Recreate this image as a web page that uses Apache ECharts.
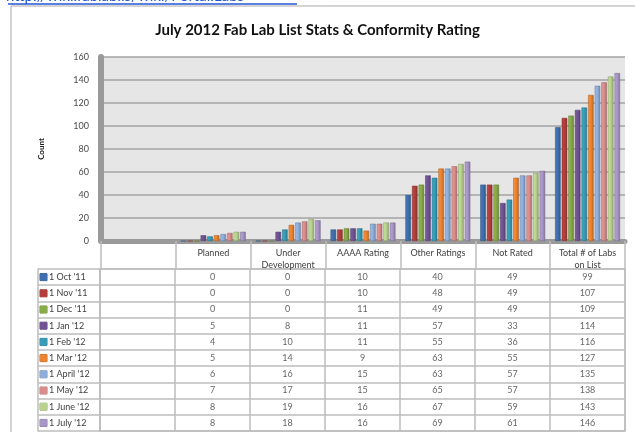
<!DOCTYPE html>
<html>
<head>
<meta charset="utf-8">
<script src="https://cdn.jsdelivr.net/npm/echarts@6/dist/echarts.min.js"></script>
<style>html,body{margin:0;padding:0;background:#fff}#c{width:635px;height:432px}</style>
</head>
<body>
<div id="c"></div>
<script>
const categories = ['', 'Planned', 'Under\nDevelopment', 'AAAA Rating', 'Other Ratings', 'Not Rated', 'Total # of Labs\non List'];
const seriesNames = ["1 Oct '11", "1 Nov '11", "1 Dec '11", "1 Jan '12", "1 Feb '12", "1 Mar '12", "1 April '12", "1 May '12", "1 June '12", "1 July '12"];
const oct11 = [0, 0, 10, 40, 49, 99];
const nov11 = [0, 0, 10, 48, 49, 107];
const dec11 = [0, 0, 11, 49, 49, 109];
const jan12 = [5, 8, 11, 57, 33, 114];
const feb12 = [4, 10, 11, 55, 36, 116];
const mar12 = [5, 14, 9, 63, 55, 127];
const apr12 = [6, 16, 15, 63, 57, 135];
const may12 = [7, 17, 15, 65, 57, 138];
const jun12 = [8, 19, 16, 67, 59, 143];
const jul12 = [8, 18, 16, 69, 61, 146];
const yTicks = [0, 20, 40, 60, 80, 100, 120, 140, 160];

const seriesValues = [oct11, nov11, dec11, jan12, feb12, mar12, apr12, may12, jun12, jul12];
const colors = ['#3F6FAE', '#B23F3C', '#88AA48', '#6F5394', '#389CB6', '#EC8431', '#8FAEDB', '#D98D8B', '#B9D38F', '#A896C6'];
const FONT = 'Lato';
const lineC = '#bdbdbd';

function shade(hex, f) {
  const n = parseInt(hex.slice(1), 16);
  let r = (n >> 16) & 255, g = (n >> 8) & 255, b = n & 255;
  r = Math.round(r * f); g = Math.round(g * f); b = Math.round(b * f);
  return 'rgb(' + Math.min(255, r) + ',' + Math.min(255, g) + ',' + Math.min(255, b) + ')';
}

const rich = { t: { fontSize: 9, color: '#404040', fontFamily: FONT, padding: [0, 0, 0, 2] } };
colors.forEach((c, i) => {
  rich['k' + i] = { backgroundColor: c, width: 7, height: 7, borderColor: shade(c, 0.8), borderWidth: 0.5 };
});

const barSeries = seriesNames.map((name, i) => ({
  name: name,
  type: 'bar',
  xAxisIndex: 0,
  yAxisIndex: 0,
  barWidth: 5.5,
  barGap: '20%',
  data: [null].concat(seriesValues[i]),
  itemStyle: {
    color: { type: 'linear', x: 0, y: 0, x2: 1, y2: 0, colorStops: [
      { offset: 0, color: shade(colors[i], 1.08) },
      { offset: 0.5, color: colors[i] },
      { offset: 1, color: shade(colors[i], 0.78) }
    ] },
    borderColor: shade(colors[i], 0.7),
    borderWidth: 0.5
  }
}));

const cellData = [];
seriesValues.forEach((vals, r) => {
  vals.forEach((v, c) => { cellData.push([c + 1, r, v]); });
});

const chart = echarts.init(document.getElementById('c'), null, { renderer: 'canvas' });
chart.setOption({
  animation: false,
  backgroundColor: '#ffffff',
  title: [{
    text: 'July 2012 Fab Lab List Stats & Conformity Rating',
    left: 'center',
    top: 18,
    textStyle: { fontFamily: FONT, fontSize: 15, fontWeight: 'bold', color: '#111111' }
  }, {
    text: 'http://wiki.fablab.is/wiki/Portal:Labs',
    left: 6,
    top: -11,
    padding: 0,
    textStyle: { fontFamily: FONT, fontSize: 15, fontWeight: 'normal', color: '#2456d8' }
  }],
  graphic: [
    { type: 'rect', shape: { x: 11, y: 6, width: 700, height: 500 }, style: { fill: 'none', stroke: '#a8a8a8', lineWidth: 1 }, silent: true, z: -1 },
    { type: 'line', shape: { x1: 8, y1: 4, x2: 297, y2: 4 }, style: { stroke: '#2456d8', lineWidth: 1.5 }, silent: true }
  ],
  grid: [
    { left: 101, right: 10, top: 57, height: 184, show: true, backgroundColor: '#e6e6e6', borderWidth: 0 },
    { left: 100, right: 10, top: 269, height: 162, show: true, backgroundColor: 'transparent', borderColor: lineC, borderWidth: 1.5 }
  ],
  xAxis: [{
    type: 'category',
    gridIndex: 0,
    data: categories,
    axisLine: { show: true, lineStyle: { color: '#9a9a9a', width: 5 } },
    axisTick: { show: true, interval: 0, length: 28, lineStyle: { color: lineC, width: 1.5 } },
    axisLabel: { interval: 0, fontFamily: FONT, fontSize: 9, color: '#404040', lineHeight: 12, margin: 6 },
    splitLine: { show: false }
  }, {
    type: 'category',
    gridIndex: 1,
    position: 'top',
    data: categories,
    axisLine: { show: false },
    axisTick: { show: false },
    axisLabel: { show: false },
    splitLine: { show: true, interval: 0, lineStyle: { color: lineC, width: 1.5 } }
  }],
  yAxis: [{
    type: 'value',
    gridIndex: 0,
    min: 0,
    max: 160,
    interval: 20,
    name: 'Count',
    nameLocation: 'middle',
    nameGap: 56,
    nameRotate: 90,
    nameTextStyle: { fontFamily: FONT, fontSize: 8, fontWeight: 'bold', color: '#1a1a1a' },
    axisLine: { show: true, lineStyle: { color: '#9a9a9a', width: 6 } },
    axisTick: { show: false },
    axisLabel: { fontFamily: FONT, fontSize: 9, color: '#4a4a4a', margin: 12,
      formatter: v => (yTicks.indexOf(v) >= 0 ? String(v) : '') },
    splitLine: { show: true, lineStyle: { color: '#a3a3a3', width: 1.5 } }
  }, {
    type: 'category',
    gridIndex: 1,
    inverse: true,
    data: seriesNames,
    axisLine: { show: true, lineStyle: { color: lineC, width: 1.5 } },
    axisTick: { show: true, interval: 0, length: 62, lineStyle: { color: lineC, width: 1.5 } },
    axisLabel: {
      interval: 0, align: 'left', margin: 60,
      formatter: (v, i) => '{k' + i + '|}{t|' + v + '}',
      rich: rich
    },
    splitLine: { show: true, interval: 0, lineStyle: { color: lineC, width: 1.5 } }
  }, {
    type: 'category',
    gridIndex: 1,
    inverse: true,
    position: 'left',
    offset: 62,
    data: seriesNames,
    axisLine: { show: true, lineStyle: { color: lineC, width: 1.5 } },
    axisTick: { show: false },
    axisLabel: { show: false },
    splitLine: { show: false }
  }],
  series: barSeries.concat([{
    type: 'scatter',
    xAxisIndex: 1,
    yAxisIndex: 1,
    symbolSize: 1,
    itemStyle: { color: 'rgba(0,0,0,0)' },
    silent: true,
    data: cellData,
    label: {
      show: true,
      position: 'inside',
      formatter: p => String(p.value[2]),
      fontFamily: FONT, fontSize: 9, color: '#404040'
    }
  }])
});
</script>
</body>
</html>
